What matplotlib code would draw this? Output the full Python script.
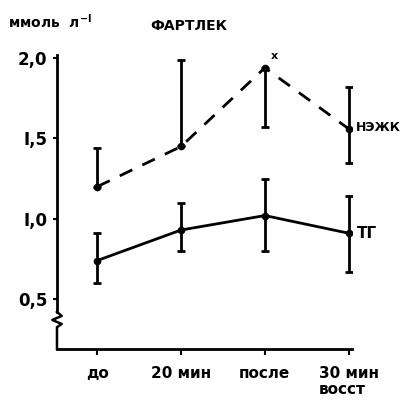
import matplotlib.pyplot as plt
import matplotlib.transforms as mtransforms

# точки измерения
stages = ['до', '20 мин', 'после', '30 мин\nвосст']

# НЭЖК, ммоль/л: среднее и разброс (вверх / вниз)
nefa = [1.20, 1.45, 1.94, 1.56]
nefa_up = [0.24, 0.54, 0.00, 0.26]
nefa_down = [0.00, 0.00, 0.37, 0.21]

# ТГ, ммоль/л
tg = [0.74, 0.93, 1.02, 0.91]
tg_up = [0.17, 0.17, 0.23, 0.23]
tg_down = [0.14, 0.13, 0.22, 0.24]

yticks = [0.5, 1.0, 1.5, 2.0]
yticklabels = ['0,5', 'I,0', 'I,5', '2,0']

plt.rcParams['font.family'] = 'DejaVu Sans'
plt.rcParams['font.weight'] = 'bold'

fig = plt.figure(figsize=(4.07, 4.01), dpi=100)
ax = fig.add_axes([0.14, 0.13, 0.725, 0.733])

x = list(range(len(stages)))

ax.errorbar(x, nefa, yerr=[nefa_down, nefa_up], color='black', lw=2,
            ls=(0, (5, 4)), marker='o', ms=4.5, capsize=3, elinewidth=2,
            capthick=2)
ax.errorbar(x, tg, yerr=[tg_down, tg_up], color='black', lw=2,
            ls='-', marker='o', ms=4.5, capsize=3, elinewidth=2,
            capthick=2)

ax.set_xlim(-0.48, 3.04)
ax.set_ylim(0.19, 2.02)

ax.spines['top'].set_visible(False)
ax.spines['right'].set_visible(False)
ax.spines['left'].set_visible(False)
ax.spines['bottom'].set_linewidth(2)

# ось Y с разрывом
tr = mtransforms.blended_transform_factory(ax.transAxes, ax.transData)
ax.plot([0, 0], [2.02, 0.42], color='black', lw=2, transform=tr, clip_on=False)
ax.plot([0, 0.016, -0.016, 0.016, 0.0, 0.0],
        [0.42, 0.395, 0.37, 0.345, 0.325, 0.19],
        color='black', lw=1.8, transform=tr, clip_on=False)

ax.set_yticks(yticks)
ax.set_yticklabels(yticklabels, fontsize=12, fontweight='bold')
ax.tick_params(axis='y', length=3, width=1.5, direction='out', pad=4)
ax.set_xticks(x)
ax.set_xticklabels(stages, fontsize=11, fontweight='bold', linespacing=1.1,
                   multialignment='left')
ax.tick_params(axis='x', length=4, width=1.5, direction='out', pad=8)

ax.text(2.07, 1.98, 'x', fontsize=8, ha='left', va='bottom')
ax.text(3.09, 1.57, 'НЭЖК', fontsize=9, ha='left', va='center')
ax.text(3.1, 0.91, 'ТГ', fontsize=11, ha='left', va='center')

fig.text(0.02, 0.945, r'ммоль  л$^{-\mathbf{I}}$', fontsize=10, ha='left', va='center')
fig.text(0.37, 0.935, 'ФАРТЛЕК', fontsize=10, ha='left', va='center')

fig.savefig('out.png', dpi=100)
